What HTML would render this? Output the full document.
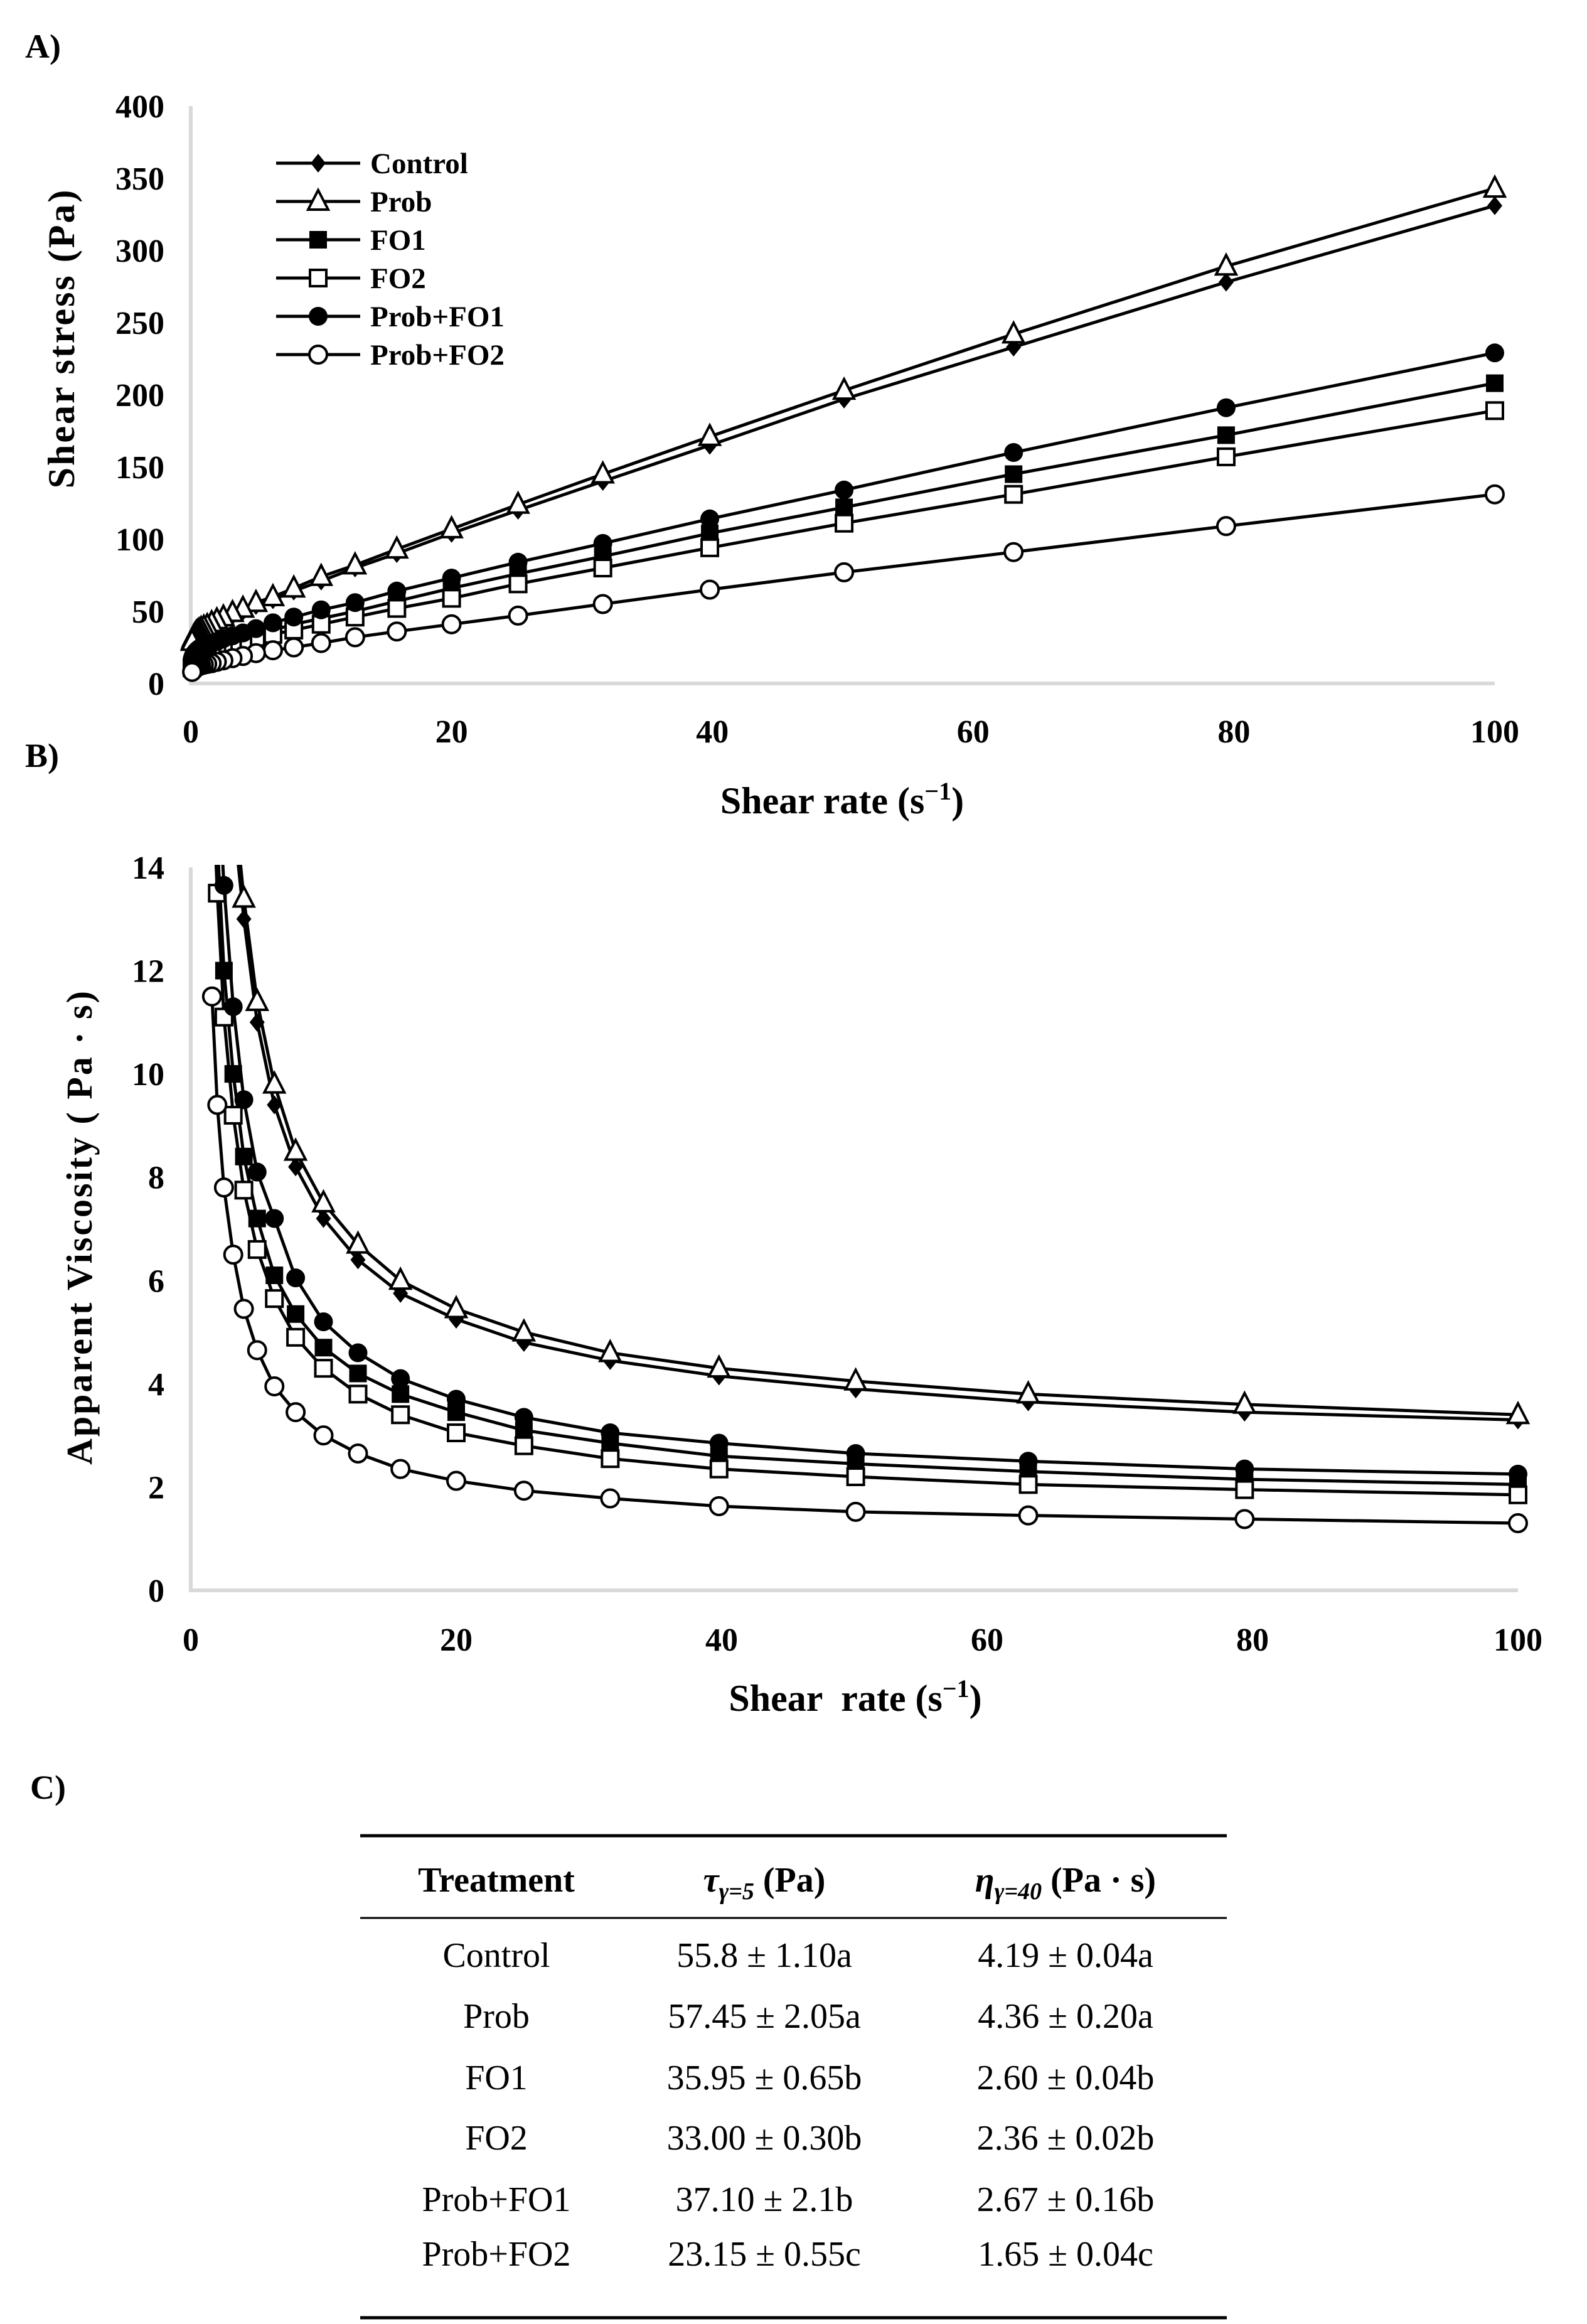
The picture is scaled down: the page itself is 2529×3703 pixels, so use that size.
<!DOCTYPE html>
<html><head><meta charset="utf-8"><style>
html,body{margin:0;padding:0;background:#fff;}
svg{display:block;}
text{font-family:"Liberation Serif",serif;}
</style></head><body>
<svg id="fig" width="2529" height="3703" viewBox="0 0 2529 3703" xmlns="http://www.w3.org/2000/svg">
<g id="gA"></g>
<g id="gB"></g>
<g id="gC"></g>
</svg>
<script>
const seriesNames = ["Control","Prob","FO1","FO2","Prob+FO1","Prob+FO2"];
const markerTypes = ["diamond","tri","sqf","sqo","cirf","ciro"];
const rateA = [100,79.4,63.1,50.1,39.8,31.6,25.1,20,15.8,12.6,10,7.9,6.3,5,4,3.2,2.5,2,1.6,1.26,1,0.79,0.63,0.5,0.4,0.32,0.25,0.2,0.16,0.126,0.1];
const stressControl = [331,278,233,197,165,140,120,104,90,80,71,64,58,54,50,47,44,42,40,39,38,37,36,35,34,33,32,31,30,29,28];
const stressProb    = [343,289,242,203,171,145,124,107,93,82,74,66,60,56,52,49,46,44,42,40,39,38,37,36,35,34,33,32,31,30,29];
const stressFO1     = [208,172,145,122,104,88,76,66,57,50,45,41,37,35,32,30,28,27,25,24,23,22,21,20,19,18,17,16,15,14,13];
const stressFO2     = [189,157,131,111,94,80,69,59,52,46,41,37,34,32,29,27,26,24,23,22,21,20,19,18,17,16,15,14,13,12,11];
const stressPF1     = [229,191,160,134,114,97,84,73,64,56,51,46,42,38,35,33,31,29,28,27,26,25,24,23,22,21,20,19,18,17,16];
const stressPF2     = [131,109,91,77,65,55,47,41,36,32,28,25,23,21,19,17.5,16,15,14,13.5,13,12.5,12,11.5,11,10.5,10,9.5,9,8.5,8];
const rateB = [100,79.4,63.1,50.1,39.8,31.6,25.1,20,15.8,12.6,10,7.9,6.3,5,4,3.2,2.5,2,1.6];
const viscControl = [3.3,3.45,3.65,3.9,4.15,4.45,4.8,5.25,5.75,6.4,7.2,8.2,9.4,11,13,15,18,21,25];
const viscProb    = [3.4,3.6,3.8,4.05,4.3,4.6,5.0,5.45,6.0,6.7,7.5,8.5,9.8,11.4,13.4,15.5,18,21,25];
const viscFO1     = [2.05,2.15,2.3,2.45,2.6,2.85,3.1,3.45,3.8,4.2,4.7,5.35,6.1,7.2,8.4,10,12,14.5,17];
const viscFO2     = [1.85,1.95,2.05,2.2,2.35,2.55,2.8,3.05,3.4,3.8,4.3,4.9,5.65,6.6,7.75,9.2,11.1,13.5,16];
const viscPF1     = [2.25,2.35,2.5,2.65,2.85,3.05,3.35,3.7,4.1,4.6,5.2,6.05,7.2,8.1,9.5,11.3,13.65,16,19];
const viscPF2     = [1.3,1.38,1.45,1.52,1.63,1.78,1.93,2.12,2.35,2.65,3.0,3.45,3.95,4.65,5.45,6.5,7.8,9.4,11.5];
const xTicks = [0,20,40,60,80,100];
const yTicksA = [0,50,100,150,200,250,300,350,400];
const yTicksB = [0,2,4,6,8,10,12,14];
const tableHeader = ["Treatment","τγ=5 (Pa)","ηγ=40 (Pa · s)"];
const tauVals = ["55.8 ± 1.10a","57.45 ± 2.05a","35.95 ± 0.65b","33.00 ± 0.30b","37.10 ± 2.1b","23.15 ± 0.55c"];
const etaVals = ["4.19 ± 0.04a","4.36 ± 0.20a","2.60 ± 0.04b","2.36 ± 0.02b","2.67 ± 0.16b","1.65 ± 0.04c"];

const NS="http://www.w3.org/2000/svg";
function mk(parent,tag,attrs,txt){const e=document.createElementNS(NS,tag);for(const k in attrs)e.setAttribute(k,attrs[k]);if(txt!==undefined)e.textContent=txt;parent.appendChild(e);return e;}

function marker(g,type,cx,cy){
  let e;const sw=4;
  if(type==="diamond"){e=mk(g,"path",{d:`M${cx} ${cy-15}L${cx+12} ${cy}L${cx} ${cy+15}L${cx-12} ${cy}Z`,fill:"#000"});}
  else if(type==="tri"){e=mk(g,"path",{d:`M${cx} ${cy-18}L${cx+16} ${cy+13}L${cx-16} ${cy+13}Z`,fill:"#fff",stroke:"#000","stroke-width":sw});}
  else if(type==="sqf"){e=mk(g,"rect",{x:cx-14,y:cy-14,width:28,height:28,fill:"#000"});}
  else if(type==="sqo"){e=mk(g,"rect",{x:cx-13,y:cy-13,width:26,height:26,fill:"#fff",stroke:"#000","stroke-width":sw});}
  else if(type==="cirf"){e=mk(g,"circle",{cx:cx,cy:cy,r:15,fill:"#000"});}
  else {e=mk(g,"circle",{cx:cx,cy:cy,r:14,fill:"#fff",stroke:"#000","stroke-width":sw});}
  return e;
}

function drawChart(g,cfg){
  const {x0,x1,y0,y1,ymax,yTicks,xs,series,clipId}=cfg;
  const sx=v=>x0+(x1-x0)*v/100, sy=v=>y0-(y0-y1)*v/ymax;
  const ax=mk(g,"path",{d:`M${x0} ${y1}V${y0}H${x1}`,fill:"none",stroke:"#d9d9d9","stroke-width":6});
  
  
  yTicks.forEach(t=>{const e=mk(g,"text",{x:x0-42,y:sy(t)+18,"text-anchor":"end","font-size":52,"font-weight":"bold"},String(t));
    
    });
  xTicks.forEach(t=>{const e=mk(g,"text",{x:sx(t),y:cfg.xlabY,"text-anchor":"middle","font-size":52,"font-weight":"bold"},String(t));
    
    });
  const cp=mk(g,"clipPath",{id:clipId});mk(cp,"rect",{x:x0-40,y:y1-4,width:x1-x0+80,height:y0-y1+44});
  const pg=mk(g,"g",{"clip-path":`url(#${clipId})`});
  series.forEach((vals,i)=>{
    const sg=mk(pg,"g",{});
    
    
    const d=vals.map((v,j)=>(j?"L":"M")+sx(xs[j]).toFixed(1)+" "+sy(v).toFixed(1)).join("");
    mk(sg,"path",{d:d,fill:"none",stroke:"#000","stroke-width":5});
    vals.forEach((v,j)=>{const m=marker(sg,markerTypes[i],sx(xs[j]),sy(v));
      
      });
  });
}

const gA=document.getElementById('gA');
drawChart(gA,{x0:304,x1:2382,y0:1089,y1:169,ymax:400,yTicks:yTicksA,xs:rateA,xlabY:1183,clipId:"cA",
  series:[stressControl,stressProb,stressFO1,stressFO2,stressPF1,stressPF2]});
const gB=document.getElementById('gB');
drawChart(gB,{x0:304,x1:2419,y0:2534,y1:1382,ymax:14,yTicks:yTicksB,xs:rateB,xlabY:2630,clipId:"cB",
  series:[viscControl,viscProb,viscFO1,viscFO2,viscPF1,viscPF2]});

// legend
const lg=mk(gA,"g",{});


seriesNames.forEach((n,i)=>{
  const y=260+i*61;
  const eg=mk(lg,"g",{});
  
  
  mk(eg,"line",{x1:440,x2:574,y1:y,y2:y,stroke:"#000","stroke-width":5});
  marker(eg,markerTypes[i],507,y);
  mk(eg,"text",{x:590,y:y+16,"font-size":47,"font-weight":"bold"},n);
});
</script>
<svg style="position:absolute;left:0;top:0" width="2529" height="3703" xmlns="http://www.w3.org/2000/svg">
<text x="40" y="92" font-family="Liberation Sans" font-weight="bold" font-size="54">A)</text>
<text x="40" y="1222" font-family="Liberation Sans" font-weight="bold" font-size="54">B)</text>
<text x="48" y="2866" font-family="Liberation Sans" font-weight="bold" font-size="54">C)</text>
<text x="1342" y="1296" text-anchor="middle" font-family="Liberation Serif" font-weight="bold" font-size="60">Shear rate (s<tspan dy="-22" font-size="40">−1</tspan><tspan dy="22">)</tspan></text>
<text transform="translate(118,539) rotate(-90)" text-anchor="middle" font-family="Liberation Serif" font-weight="bold" font-size="60" letter-spacing="3">Shear stress (Pa)</text>
<text x="1363" y="2726" text-anchor="middle" font-family="Liberation Serif" font-weight="bold" font-size="60" xml:space="preserve">Shear  rate (s<tspan dy="-22" font-size="40">−1</tspan><tspan dy="22">)</tspan></text>
<text transform="translate(146,1955) rotate(-90)" text-anchor="middle" font-family="Liberation Serif" font-weight="bold" font-size="58" letter-spacing="3" xml:space="preserve">Apparent Viscosity ( Pa · s)</text>
<g font-family="Liberation Serif" font-size="56">
<line x1="574" x2="1955" y1="2925" y2="2925" stroke="#000" stroke-width="5"/>
<line x1="574" x2="1955" y1="3056" y2="3056" stroke="#000" stroke-width="3"/>
<line x1="574" x2="1955" y1="3693" y2="3693" stroke="#000" stroke-width="5"/>
<text x="791" y="3014" text-anchor="middle" font-weight="bold">Treatment</text>
<text x="1218" y="3014" text-anchor="middle" font-weight="bold"><tspan font-style="italic">τ</tspan><tspan font-style="italic" font-size="38" dy="12">γ=5</tspan><tspan dy="-12"> (Pa)</tspan></text>
<text x="1698" y="3014" text-anchor="middle" font-weight="bold"><tspan font-style="italic">η</tspan><tspan font-style="italic" font-size="38" dy="12">γ=40</tspan><tspan dy="-12"> (Pa · s)</tspan></text>
<g id="rows"></g>
</g>
</svg>
<script>
const rowsG=document.getElementById('rows');
const rowYs=[3134,3231,3329,3425,3523,3610];
seriesNames.forEach((n,i)=>{
  const rg=mk(rowsG,"g",{});
  
  
  mk(rg,"text",{x:791,y:rowYs[i],"text-anchor":"middle"},n);
  mk(rg,"text",{x:1218,y:rowYs[i],"text-anchor":"middle"},tauVals[i]);
  mk(rg,"text",{x:1698,y:rowYs[i],"text-anchor":"middle"},etaVals[i]);
});
</script>
</body></html>
